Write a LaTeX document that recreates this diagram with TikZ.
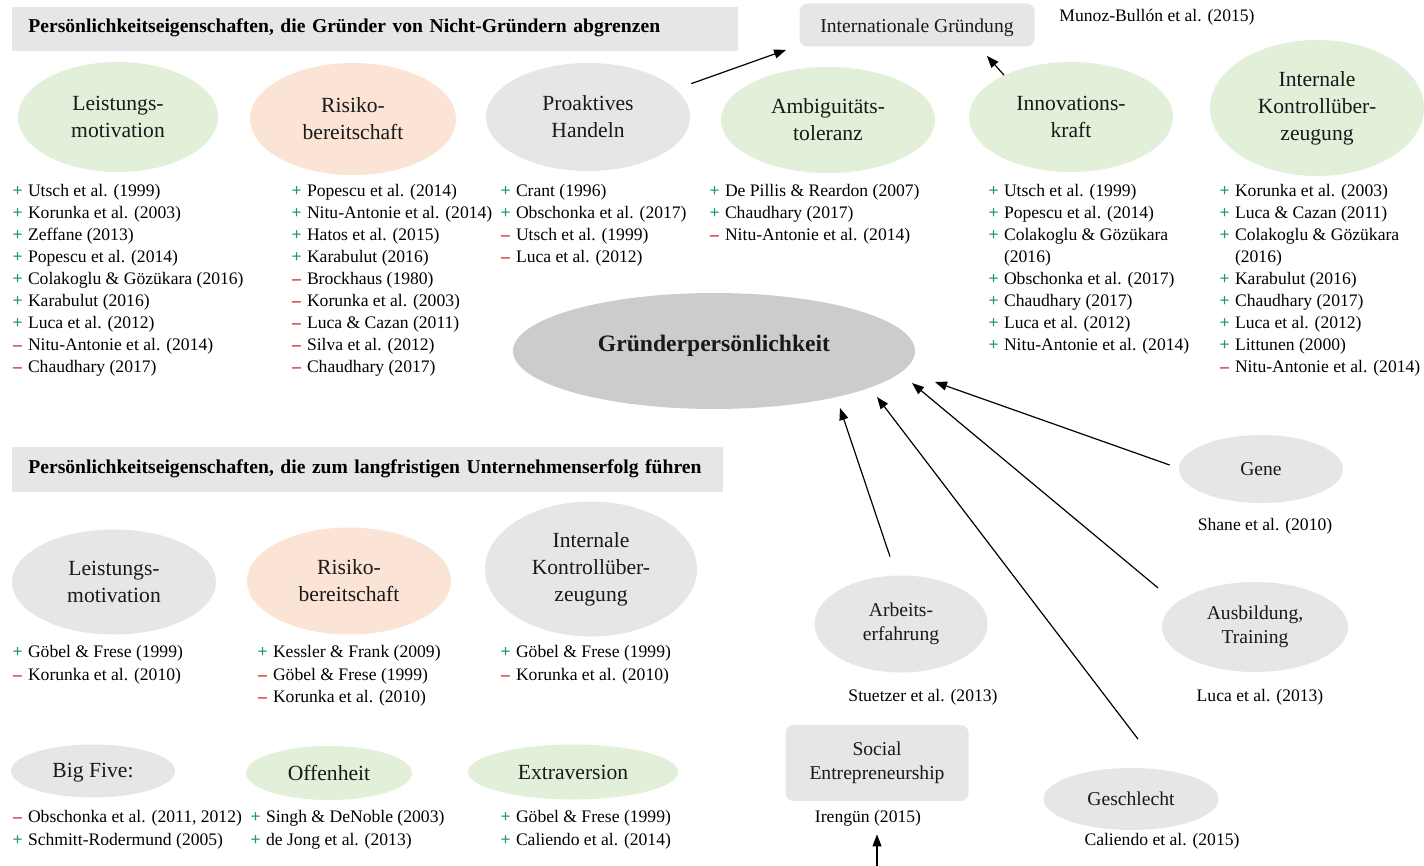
\documentclass[tikz,border=0pt]{standalone}
\usepackage{fontspec}
\setmainfont{Liberation Serif}
\usetikzlibrary{arrows.meta, shapes, positioning}

\definecolor{greenfill}{HTML}{E2EFD9}
\definecolor{peachfill}{HTML}{FBE3D6}
\definecolor{grayfill}{HTML}{E7E6E6}
\definecolor{darkfill}{HTML}{CCCCCC}
\definecolor{plusgreen}{HTML}{1F9A5C}
\definecolor{minusred}{HTML}{C62828}

% plus / minus in front of a study
\newcommand{\lpro}{\makebox[5.2pt][c]{\textcolor{plusgreen}{\bfseries +}}\hspace{2.6pt}}
\newcommand{\lcon}{\makebox[5.2pt][c]{\textcolor{minusred}{\bfseries –}}\hspace{2.6pt}}

\tikzset{%
  >={Triangle[width=4.5pt,length=6pt]},
  % Specifications for style of nodes:
	base/.style = {ellipse, align=center, inner sep=1pt, text=black!90,
	                 font=\fontsize{10.8}{13.5}\selectfont},
	trait/.style = {base, fill=greenfill},
	risk/.style = {base, fill=peachfill},
	other/.style = {base, fill=grayfill},
	factor/.style = {base, fill=grayfill, font=\fontsize{9.8}{12}\selectfont},
	outcome/.style = {rectangle, rounded corners=4pt, fill=grayfill, align=center,
	                 text=black!90, font=\fontsize{9.8}{12}\selectfont},
	header/.style = {rectangle, fill=grayfill, anchor=north west, align=left,
	                 inner xsep=8pt, minimum height=22pt,
	                 font=\fontsize{9.8}{12}\selectfont\bfseries},
	refs/.style = {anchor=north west, align=left, inner sep=0pt,
	                 font=\fontsize{8.8}{11}\selectfont},
	cite/.style = {inner sep=0pt, font=\fontsize{8.8}{11}\selectfont},
	norm/.style = {->, draw, black, line width=0.6pt}
}

\begin{document}
\begin{tikzpicture}[
    x=0.5pt, y=-0.5pt,          % one unit = one pixel of the layout
]
  \fill [white] (0,0) rectangle (1424,866);
  \useasboundingbox (0,0) rectangle (1424,866);

  % Headers
  \node (head1) [header, text width=347pt, text depth=3.5pt] at (12,7)
    {Persönlichkeitseigenschaften, die Gründer von Nicht-Gründern abgrenzen};
  \node (head2) [header, text width=339.5pt, minimum height=22.5pt, text depth=3.5pt] at (12,447)
    {Persönlichkeitseigenschaften, die zum langfristigen Unternehmenserfolg führen};

  \node (intl) [outcome, minimum width=117.5pt, minimum height=21.5pt, text height=10pt] at (917,25) {Internationale Gründung};
  \node (munoz) [cite] at (1157,17) {Munoz-Bullón et al. (2015)};

  % Top row: founders vs. non-founders
  \node (lm1) [trait, minimum width=100pt, minimum height=55pt] at (118,117) {Leistungs-\\motivation};
  \node (rb1) [risk, minimum width=103pt, minimum height=56pt] at (353,119) {Risiko-\\bereitschaft};
  \node (pa) [other, minimum width=102pt, minimum height=54pt] at (588,117) {Proaktives\\Handeln};
  \node (at) [trait, minimum width=107pt, minimum height=53pt] at (828,120) {Ambiguitäts-\\toleranz};
  \node (ik) [trait, minimum width=102pt, minimum height=55pt] at (1071,117) {Innovations-\\kraft};
  \node (kue1) [trait, minimum width=107pt, minimum height=68pt] at (1317,108) {Internale\\Kontrollüber-\\zeugung};

  \node (lm1refs) [refs] at (12,184) {\lpro Utsch et al. (1999)\\ \lpro Korunka et al. (2003)\\ \lpro Zeffane (2013)\\
    \lpro Popescu et al. (2014)\\ \lpro Colakoglu \& Gözükara (2016)\\ \lpro Karabulut (2016)\\
    \lpro Luca et al. (2012)\\ \lcon Nitu-Antonie et al. (2014)\\ \lcon Chaudhary (2017)};
  \node (rb1refs) [refs] at (291,184) {\lpro Popescu et al. (2014)\\ \lpro Nitu-Antonie et al. (2014)\\ \lpro Hatos et al. (2015)\\
    \lpro Karabulut (2016)\\ \lcon Brockhaus (1980)\\ \lcon Korunka et al. (2003)\\
    \lcon Luca \& Cazan (2011)\\ \lcon Silva et al. (2012)\\ \lcon Chaudhary (2017)};
  \node (parefs) [refs] at (500,184) {\lpro Crant (1996)\\ \lpro Obschonka et al. (2017)\\
    \lcon Utsch et al. (1999)\\ \lcon Luca et al. (2012)};
  \node (atrefs) [refs] at (709,184) {\lpro De Pillis \& Reardon (2007)\\ \lpro Chaudhary (2017)\\
    \lcon Nitu-Antonie et al. (2014)};
  \node (ikrefs) [refs] at (988,184) {\lpro Utsch et al. (1999)\\ \lpro Popescu et al. (2014)\\
    \lpro Colakoglu \& Gözükara\\ \hspace{7.8pt}(2016)\\ \lpro Obschonka et al. (2017)\\
    \lpro Chaudhary (2017)\\ \lpro Luca et al. (2012)\\ \lpro Nitu-Antonie et al. (2014)};
  \node (kue1refs) [refs] at (1219,184) {\lpro Korunka et al. (2003)\\ \lpro Luca \& Cazan (2011)\\
    \lpro Colakoglu \& Gözükara\\ \hspace{7.8pt}(2016)\\ \lpro Karabulut (2016)\\ \lpro Chaudhary (2017)\\
    \lpro Luca et al. (2012)\\ \lpro Littunen (2000)\\ \lcon Nitu-Antonie et al. (2014)};

  % Centre
  \node (gp) [base, fill=darkfill, minimum width=201pt, minimum height=58pt, text depth=8pt,
              font=\fontsize{11.8}{14}\selectfont\bfseries] at (714,351) {Gründerpersönlichkeit};

  % Lower block: long-term success
  \node (lm2) [other, minimum width=102pt, minimum height=52.5pt] at (114,582) {Leistungs-\\motivation};
  \node (rb2) [risk, minimum width=102pt, minimum height=53.5pt] at (349,581) {Risiko-\\bereitschaft};
  \node (kue2) [other, minimum width=106pt, minimum height=67.5pt] at (591,569) {Internale\\Kontrollüber-\\zeugung};

  \node (lm2refs) [refs, font=\fontsize{8.8}{11.25}\selectfont] at (12,645)
    {\lpro Göbel \& Frese (1999)\\ \lcon Korunka et al. (2010)};
  \node (rb2refs) [refs, font=\fontsize{8.8}{11.25}\selectfont] at (257,645)
    {\lpro Kessler \& Frank (2009)\\ \lcon Göbel \& Frese (1999)\\ \lcon Korunka et al. (2010)};
  \node (kue2refs) [refs, font=\fontsize{8.8}{11.25}\selectfont] at (500,645)
    {\lpro Göbel \& Frese (1999)\\ \lcon Korunka et al. (2010)};

  \node (bf) [other, minimum width=82pt, minimum height=26.5pt, text height=9pt] at (93,771) {Big Five:};
  \node (off) [trait, minimum width=83pt, minimum height=27pt] at (329,773) {Offenheit};
  \node (ex) [trait, minimum width=105pt, minimum height=27.5pt] at (573,772) {Extraversion};

  \node (bfrefs) [refs, font=\fontsize{8.8}{11.5}\selectfont] at (12,810)
    {\lcon Obschonka et al. (2011, 2012)\\ \lpro Schmitt-Rodermund (2005)};
  \node (offrefs) [refs, font=\fontsize{8.8}{11.5}\selectfont] at (250,810)
    {\lpro Singh \& DeNoble (2003)\\ \lpro de Jong et al. (2013)};
  \node (exrefs) [refs, font=\fontsize{8.8}{11.5}\selectfont] at (500,810)
    {\lpro Göbel \& Frese (1999)\\ \lpro Caliendo et al. (2014)};

  % Influencing factors
  \node (gene) [factor, minimum width=82pt, minimum height=34pt] at (1261,469) {Gene};
  \node (shane) [cite] at (1265,526) {Shane et al. (2010)};
  \node (aus) [factor, minimum width=93pt, minimum height=45pt] at (1255,627) {Ausbildung,\\Training};
  \node (luca) [cite] at (1260,697) {Luca et al. (2013)};
  \node (arb) [factor, minimum width=86.5pt, minimum height=48.5pt] at (901,624) {Arbeits-\\erfahrung};
  \node (stuetzer) [cite] at (923,697) {Stuetzer et al. (2013)};
  \node (soc) [outcome, minimum width=91.5pt, minimum height=38pt] at (877,763) {Social\\Entrepreneurship};
  \node (iren) [cite] at (868,818) {Irengün (2015)};
  \node (ges) [factor, minimum width=87.5pt, minimum height=31pt] at (1131,799) {Geschlecht};
  \node (cal) [cite] at (1162,841) {Caliendo et al. (2015)};

  % Arrow ends
  \coordinate (c1) at ([shift={(-9,-4)}]gene.west);
  \coordinate (c2) at ([shift={(-3.5,-39)}]aus.west);
  \coordinate (c3) at ([shift={(7,-28.5)}]ges.north);
  \coordinate (c4) at ([shift={(-11,-18.5)}]arb.north);
  \coordinate (c5) at (soc.south |- 0,866);
  \coordinate (h1) at ([shift={(221,31)}]gp.center);
  \coordinate (h2) at ([shift={(198,32)}]gp.center);
  \coordinate (h3) at ([shift={(163,46)}]gp.center);
  \coordinate (h4) at ([shift={(126,57)}]gp.center);

  \draw [norm] (c1) -- (h1);
  \draw [norm] (c2) -- (h2);
  \draw [norm] (c3) -- (h3);
  \draw [norm] (c4) -- (h4);
  \draw [norm, shorten >=4pt] (c5) -- (c5 |- iren.south);

  \draw [norm] ([shift={(16,-5)}]pa.18) -- ([shift={(-13,3)}]intl.south west);
  \draw [norm] (ik.148) -- ([shift={(-48,9)}]intl.south east);

\end{tikzpicture}
\end{document}
